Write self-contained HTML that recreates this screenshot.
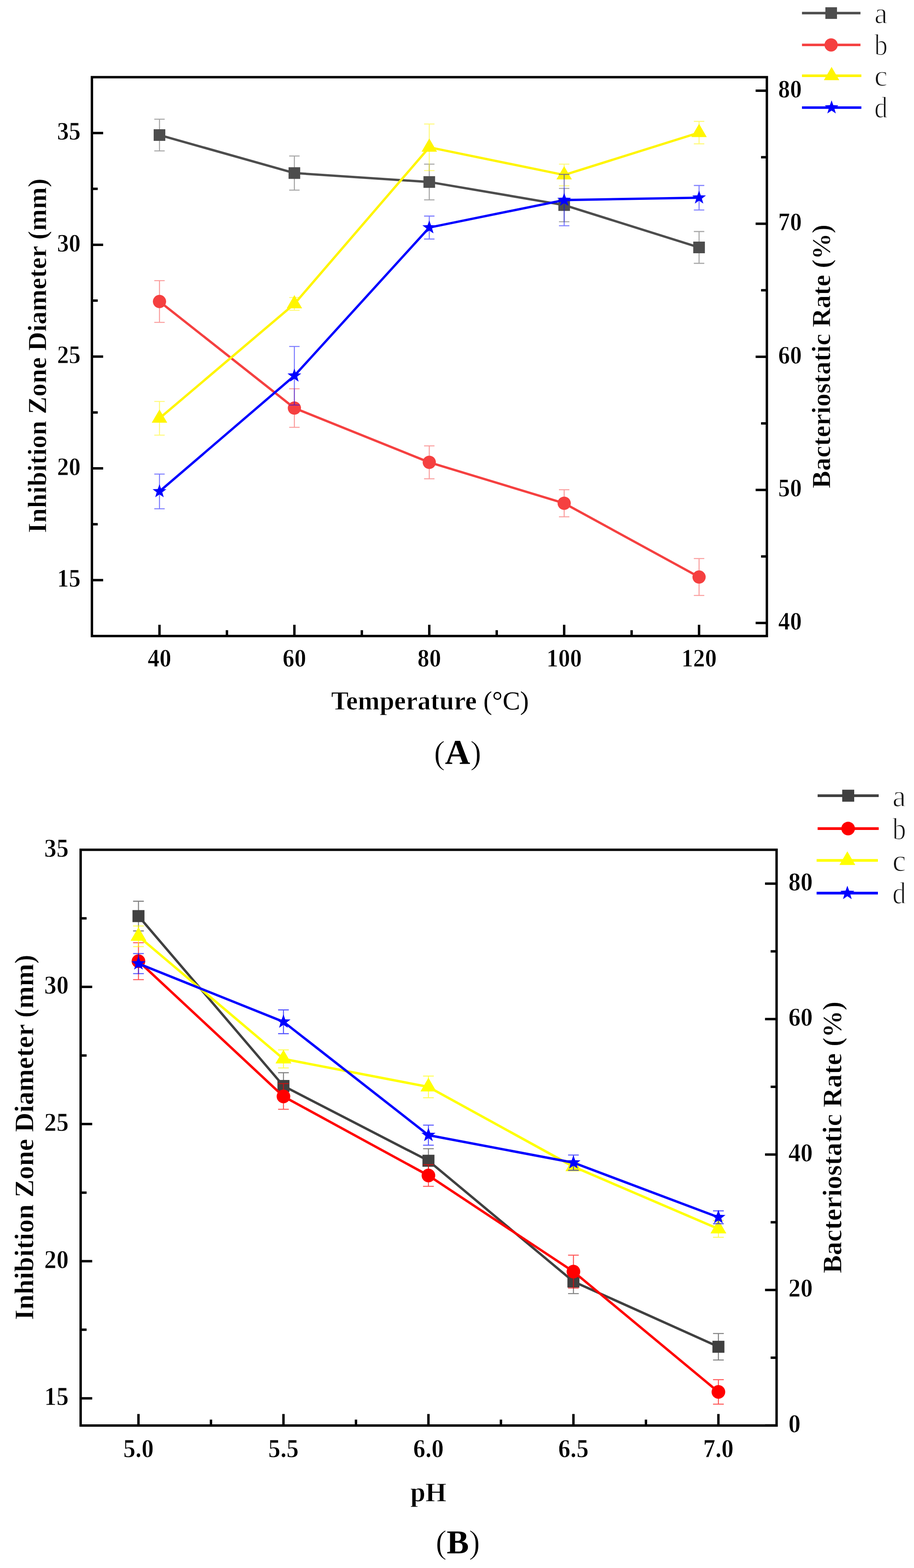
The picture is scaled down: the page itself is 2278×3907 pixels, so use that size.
<!DOCTYPE html>
<html lang="en"><head><meta charset="utf-8"><title>Figure</title>
<style>
html,body{margin:0;padding:0;background:#fff}
body{width:2278px;height:3907px}
svg{display:block}
.tk{font-family:"Liberation Serif","DejaVu Serif",serif;font-weight:bold;fill:#000;stroke:#fff;stroke-width:0.9px;paint-order:fill stroke}
.lg{font-family:"Liberation Serif","DejaVu Serif",serif;fill:#161616;stroke:#fff;stroke-width:1.6px;paint-order:fill stroke}
.cap{font-family:"Liberation Serif","DejaVu Serif",serif;fill:#000;stroke:#fff;stroke-width:1.2px;paint-order:fill stroke}
</style></head><body>
<svg width="2278" height="3907" viewBox="0 0 2278 3907">
<rect width="2278" height="3907" fill="#fff"/>
<g id="chartA">
<path d="M229.1 331.4h28.0M229.1 609.9h28.0M229.1 888.4h28.0M229.1 1166.9h28.0M229.1 1445.4h28.0M229.1 470.6h14.5M229.1 749.1h14.5M229.1 1027.7h14.5M229.1 1306.2h14.5M1911.3 225.9h-28.0M1911.3 557.5h-28.0M1911.3 889.1h-28.0M1911.3 1220.7h-28.0M1911.3 1552.3h-28.0M1911.3 391.7h-14.5M1911.3 723.3h-14.5M1911.3 1054.9h-14.5M1911.3 1386.5h-14.5M397.5 1584.8v-28.0M733.7 1584.8v-28.0M1069.9 1584.8v-28.0M1406.1 1584.8v-28.0M1742.3 1584.8v-28.0M565.6 1584.8v-14.5M901.8 1584.8v-14.5M1238.0 1584.8v-14.5M1574.2 1584.8v-14.5" stroke="#000" stroke-width="6.0" fill="none"/>
<polyline points="397.5,336.5 733.7,431.2 1069.9,453.5 1406.1,511.0 1742.3,616.5" fill="none" stroke="#4d4d4d" stroke-width="5.8" stroke-linejoin="round"/>
<rect x="383.0" y="322.0" width="29.0" height="29.0" fill="#4d4d4d"/>
<rect x="719.2" y="416.7" width="29.0" height="29.0" fill="#4d4d4d"/>
<rect x="1055.4" y="439.0" width="29.0" height="29.0" fill="#4d4d4d"/>
<rect x="1391.6" y="496.5" width="29.0" height="29.0" fill="#4d4d4d"/>
<rect x="1727.8" y="602.0" width="29.0" height="29.0" fill="#4d4d4d"/>
<path d="M397.5 297.0V376.0M384.5 297.0H410.5M384.5 376.0H410.5" stroke="#4d4d4d" stroke-opacity="0.5" stroke-width="2.6" fill="none"/>
<path d="M733.7 388.7V473.7M720.7 388.7H746.7M720.7 473.7H746.7" stroke="#4d4d4d" stroke-opacity="0.5" stroke-width="2.6" fill="none"/>
<path d="M1069.9 409.0V498.0M1056.9 409.0H1082.9M1056.9 498.0H1082.9" stroke="#4d4d4d" stroke-opacity="0.5" stroke-width="2.6" fill="none"/>
<path d="M1406.1 469.5V552.5M1393.1 469.5H1419.1M1393.1 552.5H1419.1" stroke="#4d4d4d" stroke-opacity="0.5" stroke-width="2.6" fill="none"/>
<path d="M1742.3 576.9V656.1M1729.3 576.9H1755.3M1729.3 656.1H1755.3" stroke="#4d4d4d" stroke-opacity="0.5" stroke-width="2.6" fill="none"/>
<polyline points="397.5,751.3 733.7,1016.8 1069.9,1152.0 1406.1,1254.0 1742.3,1437.8" fill="none" stroke="#f54040" stroke-width="5.8" stroke-linejoin="round"/>
<circle cx="397.5" cy="751.3" r="16.5" fill="#f54040"/>
<circle cx="733.7" cy="1016.8" r="16.5" fill="#f54040"/>
<circle cx="1069.9" cy="1152.0" r="16.5" fill="#f54040"/>
<circle cx="1406.1" cy="1254.0" r="16.5" fill="#f54040"/>
<circle cx="1742.3" cy="1437.8" r="16.5" fill="#f54040"/>
<path d="M397.5 699.3V803.3M384.5 699.3H410.5M384.5 803.3H410.5" stroke="#f54040" stroke-opacity="0.5" stroke-width="2.6" fill="none"/>
<path d="M733.7 968.8V1064.8M720.7 968.8H746.7M720.7 1064.8H746.7" stroke="#f54040" stroke-opacity="0.5" stroke-width="2.6" fill="none"/>
<path d="M1069.9 1111.0V1193.0M1056.9 1111.0H1082.9M1056.9 1193.0H1082.9" stroke="#f54040" stroke-opacity="0.5" stroke-width="2.6" fill="none"/>
<path d="M1406.1 1220.3V1287.7M1393.1 1220.3H1419.1M1393.1 1287.7H1419.1" stroke="#f54040" stroke-opacity="0.5" stroke-width="2.6" fill="none"/>
<path d="M1742.3 1391.8V1483.8M1729.3 1391.8H1755.3M1729.3 1483.8H1755.3" stroke="#f54040" stroke-opacity="0.5" stroke-width="2.6" fill="none"/>
<polyline points="397.5,1042.3 733.7,757.3 1069.9,367.0 1406.1,436.0 1742.3,330.4" fill="none" stroke="#fff500" stroke-width="5.8" stroke-linejoin="round"/>
<polygon points="397.5,1020.3 416.8,1053.3 378.2,1053.3" fill="#fff500"/>
<polygon points="733.7,735.3 753.0,768.3 714.5,768.3" fill="#fff500"/>
<polygon points="1069.9,345.0 1089.2,378.0 1050.7,378.0" fill="#fff500"/>
<polygon points="1406.1,414.0 1425.3,447.0 1386.8,447.0" fill="#fff500"/>
<polygon points="1742.3,308.4 1761.5,341.4 1723.0,341.4" fill="#fff500"/>
<path d="M397.5 1000.3V1084.3M384.5 1000.3H410.5M384.5 1084.3H410.5" stroke="#fff500" stroke-opacity="0.5" stroke-width="2.6" fill="none"/>
<path d="M733.7 741.3V773.3M720.7 741.3H746.7M720.7 773.3H746.7" stroke="#fff500" stroke-opacity="0.5" stroke-width="2.6" fill="none"/>
<path d="M1069.9 309.0V425.0M1056.9 309.0H1082.9M1056.9 425.0H1082.9" stroke="#fff500" stroke-opacity="0.5" stroke-width="2.6" fill="none"/>
<path d="M1406.1 409.0V463.0M1393.1 409.0H1419.1M1393.1 463.0H1419.1" stroke="#fff500" stroke-opacity="0.5" stroke-width="2.6" fill="none"/>
<path d="M1742.3 302.4V358.4M1729.3 302.4H1755.3M1729.3 358.4H1755.3" stroke="#fff500" stroke-opacity="0.5" stroke-width="2.6" fill="none"/>
<polyline points="397.5,1224.5 733.7,936.3 1069.9,567.0 1406.1,498.5 1742.3,492.7" fill="none" stroke="#0000ff" stroke-width="5.8" stroke-linejoin="round"/>
<polygon points="397.5,1206.5 401.8,1218.5 414.6,1218.9 404.5,1226.8 408.1,1239.1 397.5,1231.9 386.9,1239.1 390.5,1226.8 380.4,1218.9 393.2,1218.5" fill="#0000ff"/>
<polygon points="733.7,918.3 738.0,930.3 750.8,930.7 740.7,938.6 744.3,950.9 733.7,943.7 723.1,950.9 726.7,938.6 716.6,930.7 729.4,930.3" fill="#0000ff"/>
<polygon points="1069.9,549.0 1074.2,561.0 1087.0,561.4 1076.9,569.3 1080.5,581.6 1069.9,574.4 1059.3,581.6 1062.9,569.3 1052.8,561.4 1065.6,561.0" fill="#0000ff"/>
<polygon points="1406.1,480.5 1410.4,492.5 1423.2,492.9 1413.1,500.8 1416.7,513.1 1406.1,505.9 1395.5,513.1 1399.1,500.8 1389.0,492.9 1401.8,492.5" fill="#0000ff"/>
<polygon points="1742.3,474.7 1746.6,486.7 1759.4,487.1 1749.3,495.0 1752.9,507.3 1742.3,500.1 1731.7,507.3 1735.3,495.0 1725.2,487.1 1738.0,486.7" fill="#0000ff"/>
<path d="M397.5 1181.2V1267.8M384.5 1181.2H410.5M384.5 1267.8H410.5" stroke="#0000ff" stroke-opacity="0.5" stroke-width="2.6" fill="none"/>
<path d="M733.7 863.3V1009.3M720.7 863.3H746.7M720.7 1009.3H746.7" stroke="#0000ff" stroke-opacity="0.5" stroke-width="2.6" fill="none"/>
<path d="M1069.9 538.4V595.6M1056.9 538.4H1082.9M1056.9 595.6H1082.9" stroke="#0000ff" stroke-opacity="0.5" stroke-width="2.6" fill="none"/>
<path d="M1406.1 434.5V562.5M1393.1 434.5H1419.1M1393.1 562.5H1419.1" stroke="#0000ff" stroke-opacity="0.5" stroke-width="2.6" fill="none"/>
<path d="M1742.3 462.1V523.3M1729.3 462.1H1755.3M1729.3 523.3H1755.3" stroke="#0000ff" stroke-opacity="0.5" stroke-width="2.6" fill="none"/>
<rect x="229.1" y="192.3" width="1682.2" height="1392.5" fill="none" stroke="#000" stroke-width="6.0"/>
<text transform="translate(201.0 348.0) scale(0.98 1.045)" class="tk" font-size="60.0" text-anchor="end">35</text>
<text transform="translate(201.0 626.5) scale(0.98 1.045)" class="tk" font-size="60.0" text-anchor="end">30</text>
<text transform="translate(201.0 905.0) scale(0.98 1.045)" class="tk" font-size="60.0" text-anchor="end">25</text>
<text transform="translate(201.0 1183.5) scale(0.98 1.045)" class="tk" font-size="60.0" text-anchor="end">20</text>
<text transform="translate(201.0 1462.0) scale(0.98 1.045)" class="tk" font-size="60.0" text-anchor="end">15</text>
<text transform="translate(1939.5 242.5) scale(0.98 1.045)" class="tk" font-size="60.0" text-anchor="start">80</text>
<text transform="translate(1939.5 574.1) scale(0.98 1.045)" class="tk" font-size="60.0" text-anchor="start">70</text>
<text transform="translate(1939.5 905.7) scale(0.98 1.045)" class="tk" font-size="60.0" text-anchor="start">60</text>
<text transform="translate(1939.5 1237.3) scale(0.98 1.045)" class="tk" font-size="60.0" text-anchor="start">50</text>
<text transform="translate(1939.5 1568.9) scale(0.98 1.045)" class="tk" font-size="60.0" text-anchor="start">40</text>
<text transform="translate(397.5 1660.8) scale(0.98 1.045)" class="tk" font-size="60.0" text-anchor="middle">40</text>
<text transform="translate(733.7 1660.8) scale(0.98 1.045)" class="tk" font-size="60.0" text-anchor="middle">60</text>
<text transform="translate(1069.9 1660.8) scale(0.98 1.045)" class="tk" font-size="60.0" text-anchor="middle">80</text>
<text transform="translate(1406.1 1660.8) scale(0.98 1.045)" class="tk" font-size="60.0" text-anchor="middle">100</text>
<text transform="translate(1742.3 1660.8) scale(0.98 1.045)" class="tk" font-size="60.0" text-anchor="middle">120</text>
<text transform="translate(115.0 886.5) rotate(-90)" class="tk" font-size="65.4" text-anchor="middle">Inhibition Zone Diameter (mm)</text>
<text transform="translate(2068.6 888.0) rotate(-90)" class="tk" font-size="65.4" text-anchor="middle">Bacteriostatic Rate (%)</text>
<text x="1071.6" y="1767.5" class="tk" font-size="65.4" text-anchor="middle">Temperature <tspan font-weight="normal" stroke="none">(°C)</tspan></text>
<line x1="1998.8" y1="32.6" x2="2144.6" y2="32.6" stroke="#4d4d4d" stroke-width="6.4"/>
<rect x="2057.1" y="18.1" width="29.0" height="29.0" fill="#4d4d4d"/>
<text transform="translate(2179.2 57.6) scale(1.0 1)" class="lg" font-size="74.0">a</text>
<line x1="1998.8" y1="111.9" x2="2144.6" y2="111.9" stroke="#f54040" stroke-width="6.4"/>
<circle cx="2071.4" cy="111.9" r="16.5" fill="#f54040"/>
<text transform="translate(2179.2 136.9) scale(0.89 1)" class="lg" font-size="74.0">b</text>
<line x1="1998.8" y1="188.8" x2="2146.8" y2="188.8" stroke="#fff500" stroke-width="6.4"/>
<polygon points="2072.6,166.8 2091.8,199.8 2053.3,199.8" fill="#fff500"/>
<text transform="translate(2179.2 213.8) scale(1.0 1)" class="lg" font-size="74.0">c</text>
<line x1="1998.8" y1="268.1" x2="2146.8" y2="268.1" stroke="#0000ff" stroke-width="6.4"/>
<polygon points="2072.6,250.1 2076.9,262.1 2089.7,262.5 2079.6,270.4 2083.2,282.7 2072.6,275.5 2062.0,282.7 2065.6,270.4 2055.5,262.5 2068.3,262.1" fill="#0000ff"/>
<text transform="translate(2179.2 293.1) scale(0.89 1)" class="lg" font-size="74.0">d</text>
<text x="1140.5" y="1903.0" class="cap" font-size="83.0" text-anchor="middle">(<tspan font-weight="bold" stroke="none" font-size="87.0">A</tspan>)</text>
</g>
<g id="chartB">
<path d="M201.0 2459.1h28.8M201.0 2800.8h28.8M201.0 3142.5h28.8M201.0 3484.2h28.8M201.0 2288.2h14.8M201.0 2629.9h14.8M201.0 2971.7h14.8M201.0 3313.3h14.8M1935.5 2201.8h-28.8M1935.5 2539.3h-28.8M1935.5 2876.8h-28.8M1935.5 3214.3h-28.8M1935.5 3551.8h-28.8M1935.5 2370.6h-14.8M1935.5 2708.1h-14.8M1935.5 3045.6h-14.8M1935.5 3383.1h-14.8M345.1 3552.0v-28.8M706.5 3552.0v-28.8M1067.8 3552.0v-28.8M1429.2 3552.0v-28.8M1790.5 3552.0v-28.8M525.8 3552.0v-14.8M887.2 3552.0v-14.8M1248.5 3552.0v-14.8M1609.9 3552.0v-14.8" stroke="#000" stroke-width="6.0" fill="none"/>
<polyline points="345.1,2282.6 706.5,2705.9 1067.8,2892.2 1429.2,3193.2 1790.5,3355.7" fill="none" stroke="#404040" stroke-width="6.0" stroke-linejoin="round"/>
<rect x="330.2" y="2267.7" width="29.9" height="29.9" fill="#404040"/>
<rect x="691.5" y="2691.0" width="29.9" height="29.9" fill="#404040"/>
<rect x="1052.9" y="2877.3" width="29.9" height="29.9" fill="#404040"/>
<rect x="1414.2" y="3178.3" width="29.9" height="29.9" fill="#404040"/>
<rect x="1775.6" y="3340.8" width="29.9" height="29.9" fill="#404040"/>
<path d="M345.1 2245.6V2319.6M331.7 2245.6H358.5M331.7 2319.6H358.5" stroke="#404040" stroke-opacity="0.65" stroke-width="2.6" fill="none"/>
<path d="M706.5 2672.9V2738.9M693.1 2672.9H719.8M693.1 2738.9H719.8" stroke="#404040" stroke-opacity="0.65" stroke-width="2.6" fill="none"/>
<path d="M1067.8 2862.2V2922.2M1054.4 2862.2H1081.2M1054.4 2922.2H1081.2" stroke="#404040" stroke-opacity="0.65" stroke-width="2.6" fill="none"/>
<path d="M1429.2 3163.2V3223.2M1415.8 3163.2H1442.5M1415.8 3223.2H1442.5" stroke="#404040" stroke-opacity="0.65" stroke-width="2.6" fill="none"/>
<path d="M1790.5 3322.7V3388.7M1777.1 3322.7H1803.9M1777.1 3388.7H1803.9" stroke="#404040" stroke-opacity="0.65" stroke-width="2.6" fill="none"/>
<polyline points="345.1,2395.0 706.5,2732.0 1067.8,2929.0 1429.2,3168.5 1790.5,3468.3" fill="none" stroke="#ff0000" stroke-width="6.0" stroke-linejoin="round"/>
<circle cx="345.1" cy="2395.0" r="17.0" fill="#ff0000"/>
<circle cx="706.5" cy="2732.0" r="17.0" fill="#ff0000"/>
<circle cx="1067.8" cy="2929.0" r="17.0" fill="#ff0000"/>
<circle cx="1429.2" cy="3168.5" r="17.0" fill="#ff0000"/>
<circle cx="1790.5" cy="3468.3" r="17.0" fill="#ff0000"/>
<path d="M345.1 2349.0V2441.0M331.7 2349.0H358.5M331.7 2441.0H358.5" stroke="#ff0000" stroke-opacity="0.65" stroke-width="2.6" fill="none"/>
<path d="M706.5 2700.0V2764.0M693.1 2700.0H719.8M693.1 2764.0H719.8" stroke="#ff0000" stroke-opacity="0.65" stroke-width="2.6" fill="none"/>
<path d="M1067.8 2902.0V2956.0M1054.4 2902.0H1081.2M1054.4 2956.0H1081.2" stroke="#ff0000" stroke-opacity="0.65" stroke-width="2.6" fill="none"/>
<path d="M1429.2 3127.5V3209.5M1415.8 3127.5H1442.5M1415.8 3209.5H1442.5" stroke="#ff0000" stroke-opacity="0.65" stroke-width="2.6" fill="none"/>
<path d="M1790.5 3437.8V3498.8M1777.1 3437.8H1803.9M1777.1 3498.8H1803.9" stroke="#ff0000" stroke-opacity="0.65" stroke-width="2.6" fill="none"/>
<polyline points="345.1,2333.0 706.5,2638.5 1067.8,2708.3 1429.2,2907.0 1790.5,3062.0" fill="none" stroke="#ffff00" stroke-width="6.0" stroke-linejoin="round"/>
<polygon points="345.1,2310.3 364.9,2344.3 325.3,2344.3" fill="#ffff00"/>
<polygon points="706.5,2615.8 726.3,2649.8 686.6,2649.8" fill="#ffff00"/>
<polygon points="1067.8,2685.6 1087.6,2719.6 1048.0,2719.6" fill="#ffff00"/>
<polygon points="1429.2,2884.3 1449.0,2918.3 1409.3,2918.3" fill="#ffff00"/>
<polygon points="1790.5,3039.3 1810.3,3073.3 1770.7,3073.3" fill="#ffff00"/>
<path d="M345.1 2307.2V2358.8M331.7 2307.2H358.5M331.7 2358.8H358.5" stroke="#ffff00" stroke-opacity="0.65" stroke-width="2.6" fill="none"/>
<path d="M706.5 2616.0V2661.0M693.1 2616.0H719.8M693.1 2661.0H719.8" stroke="#ffff00" stroke-opacity="0.65" stroke-width="2.6" fill="none"/>
<path d="M1067.8 2681.3V2735.3M1054.4 2681.3H1081.2M1054.4 2735.3H1081.2" stroke="#ffff00" stroke-opacity="0.65" stroke-width="2.6" fill="none"/>
<path d="M1429.2 2897.0V2917.0M1415.8 2897.0H1442.5M1415.8 2917.0H1442.5" stroke="#ffff00" stroke-opacity="0.65" stroke-width="2.6" fill="none"/>
<path d="M1790.5 3041.0V3083.0M1777.1 3041.0H1803.9M1777.1 3083.0H1803.9" stroke="#ffff00" stroke-opacity="0.65" stroke-width="2.6" fill="none"/>
<polyline points="345.1,2401.0 706.5,2546.0 1067.8,2828.5 1429.2,2897.0 1790.5,3033.1" fill="none" stroke="#0000ff" stroke-width="6.0" stroke-linejoin="round"/>
<polygon points="345.1,2382.5 349.6,2394.9 362.7,2395.3 352.3,2403.3 356.0,2416.0 345.1,2408.6 334.2,2416.0 337.9,2403.3 327.5,2395.3 340.6,2394.9" fill="#0000ff"/>
<polygon points="706.5,2527.5 710.9,2539.9 724.1,2540.3 713.7,2548.3 717.3,2561.0 706.5,2553.6 695.6,2561.0 699.2,2548.3 688.8,2540.3 702.0,2539.9" fill="#0000ff"/>
<polygon points="1067.8,2810.0 1072.3,2822.4 1085.4,2822.8 1075.0,2830.8 1078.7,2843.5 1067.8,2836.1 1056.9,2843.5 1060.6,2830.8 1050.2,2822.8 1063.3,2822.4" fill="#0000ff"/>
<polygon points="1429.2,2878.5 1433.6,2890.9 1446.8,2891.3 1436.4,2899.3 1440.0,2912.0 1429.2,2904.6 1418.3,2912.0 1421.9,2899.3 1411.5,2891.3 1424.7,2890.9" fill="#0000ff"/>
<polygon points="1790.5,3014.6 1795.0,3027.0 1808.1,3027.4 1797.7,3035.4 1801.4,3048.1 1790.5,3040.7 1779.6,3048.1 1783.3,3035.4 1772.9,3027.4 1786.0,3027.0" fill="#0000ff"/>
<path d="M345.1 2376.0V2426.0M331.7 2376.0H358.5M331.7 2426.0H358.5" stroke="#0000ff" stroke-opacity="0.65" stroke-width="2.6" fill="none"/>
<path d="M706.5 2516.4V2575.6M693.1 2516.4H719.8M693.1 2575.6H719.8" stroke="#0000ff" stroke-opacity="0.65" stroke-width="2.6" fill="none"/>
<path d="M1067.8 2803.5V2853.5M1054.4 2803.5H1081.2M1054.4 2853.5H1081.2" stroke="#0000ff" stroke-opacity="0.65" stroke-width="2.6" fill="none"/>
<path d="M1429.2 2878.0V2916.0M1415.8 2878.0H1442.5M1415.8 2916.0H1442.5" stroke="#0000ff" stroke-opacity="0.65" stroke-width="2.6" fill="none"/>
<path d="M1790.5 3017.1V3049.1M1777.1 3017.1H1803.9M1777.1 3049.1H1803.9" stroke="#0000ff" stroke-opacity="0.65" stroke-width="2.6" fill="none"/>
<rect x="201.0" y="2117.4" width="1734.5" height="1434.6" fill="none" stroke="#000" stroke-width="6.0"/>
<text transform="translate(171.0 2134.5) scale(0.98 1.045)" class="tk" font-size="62.0" text-anchor="end">35</text>
<text transform="translate(171.0 2476.2) scale(0.98 1.045)" class="tk" font-size="62.0" text-anchor="end">30</text>
<text transform="translate(171.0 2817.9) scale(0.98 1.045)" class="tk" font-size="62.0" text-anchor="end">25</text>
<text transform="translate(171.0 3159.6) scale(0.98 1.045)" class="tk" font-size="62.0" text-anchor="end">20</text>
<text transform="translate(171.0 3501.3) scale(0.98 1.045)" class="tk" font-size="62.0" text-anchor="end">15</text>
<text transform="translate(1965.0 2218.9) scale(0.98 1.045)" class="tk" font-size="62.0" text-anchor="start">80</text>
<text transform="translate(1965.0 2556.4) scale(0.98 1.045)" class="tk" font-size="62.0" text-anchor="start">60</text>
<text transform="translate(1965.0 2893.9) scale(0.98 1.045)" class="tk" font-size="62.0" text-anchor="start">40</text>
<text transform="translate(1965.0 3231.4) scale(0.98 1.045)" class="tk" font-size="62.0" text-anchor="start">20</text>
<text transform="translate(1965.0 3568.9) scale(0.98 1.045)" class="tk" font-size="62.0" text-anchor="start">0</text>
<text transform="translate(345.1 3631.2) scale(0.98 1.045)" class="tk" font-size="62.0" text-anchor="middle">5.0</text>
<text transform="translate(706.5 3631.2) scale(0.98 1.045)" class="tk" font-size="62.0" text-anchor="middle">5.5</text>
<text transform="translate(1067.8 3631.2) scale(0.98 1.045)" class="tk" font-size="62.0" text-anchor="middle">6.0</text>
<text transform="translate(1429.2 3631.2) scale(0.98 1.045)" class="tk" font-size="62.0" text-anchor="middle">6.5</text>
<text transform="translate(1790.5 3631.2) scale(0.98 1.045)" class="tk" font-size="62.0" text-anchor="middle">7.0</text>
<text transform="translate(83.0 2834.0) rotate(-90)" class="tk" font-size="67.4" text-anchor="middle">Inhibition Zone Diameter (mm)</text>
<text transform="translate(2097.0 2834.0) rotate(-90)" class="tk" font-size="67.4" text-anchor="middle">Bacteriostatic Rate (%)</text>
<text x="1067.7" y="3741.4" class="tk" font-size="67.4" text-anchor="middle">pH</text>
<line x1="2037.8" y1="1982.6" x2="2190.0" y2="1982.6" stroke="#404040" stroke-width="6.6"/>
<rect x="2099.1" y="1967.7" width="29.9" height="29.9" fill="#404040"/>
<text transform="translate(2224.2 2008.6) scale(1.0 1)" class="lg" font-size="76.0">a</text>
<line x1="2037.8" y1="2064.6" x2="2190.0" y2="2064.6" stroke="#ff0000" stroke-width="6.6"/>
<circle cx="2113.8" cy="2064.6" r="17.0" fill="#ff0000"/>
<text transform="translate(2224.2 2090.6) scale(0.89 1)" class="lg" font-size="76.0">b</text>
<line x1="2035.3" y1="2143.9" x2="2188.0" y2="2143.9" stroke="#ffff00" stroke-width="6.6"/>
<polygon points="2111.9,2121.2 2131.7,2155.2 2092.1,2155.2" fill="#ffff00"/>
<text transform="translate(2224.2 2169.9) scale(1.0 1)" class="lg" font-size="76.0">c</text>
<line x1="2035.3" y1="2225.4" x2="2188.0" y2="2225.4" stroke="#0000ff" stroke-width="6.6"/>
<polygon points="2111.9,2206.9 2116.4,2219.3 2129.5,2219.7 2119.1,2227.7 2122.8,2240.4 2111.9,2233.0 2101.0,2240.4 2104.7,2227.7 2094.3,2219.7 2107.4,2219.3" fill="#0000ff"/>
<text transform="translate(2224.2 2251.4) scale(0.89 1)" class="lg" font-size="76.0">d</text>
<text x="1141.0" y="3869.5" class="cap" font-size="83.0" text-anchor="middle">(<tspan font-weight="bold" stroke="none" font-size="83.0">B</tspan>)</text>
</g>
</svg>
</body></html>
